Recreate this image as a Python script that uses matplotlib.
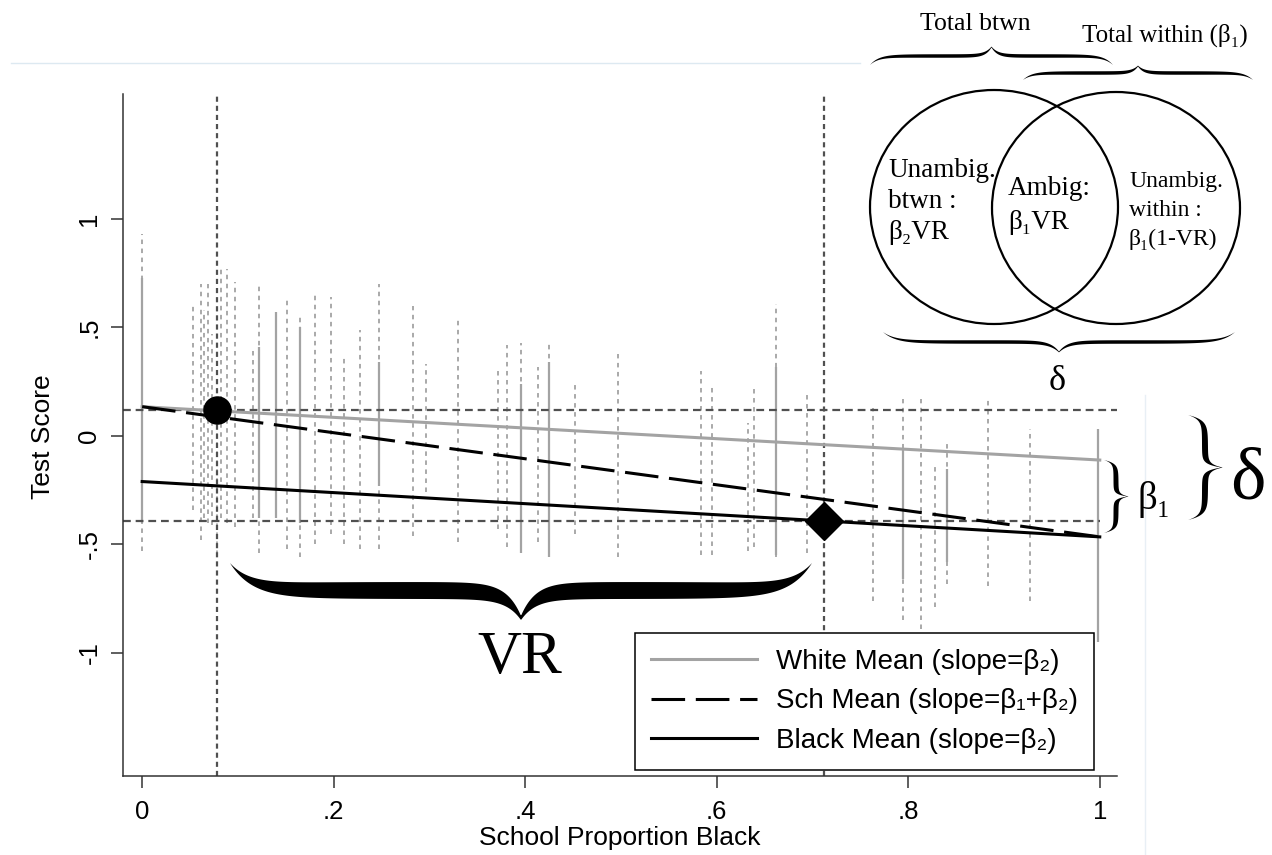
import numpy as np
import matplotlib
matplotlib.use("Agg")
import matplotlib.pyplot as plt
from matplotlib.patches import Ellipse

SANS = ["Liberation Sans", "DejaVu Sans"]
SERIF = ["Liberation Serif", "DejaVu Serif"]

# school columns: proportion black and the spread of student scores
school_x = [0.000, 0.053, 0.061, 0.065, 0.069, 0.073, 0.078, 0.082, 0.089, 0.097,
            0.116, 0.122, 0.140, 0.151, 0.165, 0.180, 0.197, 0.211, 0.228, 0.247,
            0.283, 0.296, 0.330, 0.372, 0.381, 0.396, 0.413, 0.425, 0.452, 0.497,
            0.584, 0.595, 0.633, 0.639, 0.662, 0.694, 0.763, 0.795, 0.813, 0.828,
            0.840, 0.883, 0.927, 0.998]
school_lo = [-0.53, -0.34, -0.48, -0.38, -0.40, -0.41, -0.55, -0.38, -0.40, -0.42,
             -0.38, -0.54, -0.38, -0.52, -0.56, -0.50, -0.45, -0.50, -0.52, -0.52,
             -0.46, -0.26, -0.49, -0.43, -0.51, -0.54, -0.49, -0.56, -0.45, -0.56,
             -0.55, -0.55, -0.53, -0.51, -0.56, -0.54, -0.76, -0.85, -0.89, -0.79,
             -0.68, -0.69, -0.76, -0.95]
school_hi = [0.93, 0.60, 0.70, 0.58, 0.70, 0.47, 0.62, 0.77, 0.77, 0.71,
             0.41, 0.70, 0.57, 0.63, 0.55, 0.66, 0.64, 0.37, 0.49, 0.70,
             0.60, 0.33, 0.55, 0.30, 0.42, 0.43, 0.32, 0.44, 0.25, 0.38,
             0.30, 0.24, 0.06, 0.22, 0.61, 0.19, 0.13, 0.17, 0.17, -0.13,
             -0.03, 0.18, 0.03, 0.03]

# densely filled parts of some columns
core_x = [0.000, 0.122, 0.140, 0.165, 0.247, 0.396, 0.425, 0.662, 0.795, 0.840, 0.998]
core_lo = [-0.40, -0.38, -0.38, -0.40, -0.23, -0.54, -0.56, -0.55, -0.66, -0.58, -0.95]
core_hi = [0.73, 0.41, 0.57, 0.50, 0.34, 0.24, 0.34, 0.32, -0.06, -0.15, 0.03]

# fitted mean lines (endpoints at x = 0 and x = 1)
line_x = [0, 1]
white_y = [0.135, -0.111]
sch_y = [0.135, -0.465]
black_y = [-0.210, -0.465]

# highlighted points
white_pt = (0.078, 0.12)
black_pt = (0.712, -0.39)

xticks = [0, 0.2, 0.4, 0.6, 0.8, 1]
xtick_labels = ["0", ".2", ".4", ".6", ".8", "1"]
yticks = [-1, -0.5, 0, 0.5, 1]
ytick_labels = ["-1", "-.5", "0", ".5", "1"]

legend_labels = ["White Mean (slope=β₂)", "Sch Mean (slope=β₁+β₂)", "Black Mean (slope=β₂)"]

W, H = 1272, 855
GRAY = "#a3a3a3"
REF = "#505050"


def hbrace(ax, x0, x1, y_end, y_tip, thick, n=800):
    """Filled horizontal curly brace, tip in the middle."""
    s = np.linspace(0, 1, n)
    h = 1 - np.abs(2 * s - 1)
    prof = 0.5 * (1 - np.exp(-h / 0.07)) + 0.5 * np.exp(-(1 - h) / 0.05)
    w = thick * (1 - np.exp(-h / 0.12)) * (1 - 0.75 * np.exp(-(1 - h) / 0.05))
    x = x0 + (x1 - x0) * s
    yc = y_end + (y_tip - y_end) * prof
    ax.fill(np.r_[x, x[::-1]], np.r_[yc - w / 2, (yc + w / 2)[::-1]], color="black", lw=0)


def vbrace(ax, y0, y1, x_end, x_tip, thick, n=800):
    s = np.linspace(0, 1, n)
    h = 1 - np.abs(2 * s - 1)
    prof = 0.5 * (1 - np.exp(-h / 0.09)) + 0.5 * np.exp(-(1 - h) / 0.06)
    w = thick * (1 - np.exp(-h / 0.12)) * (1 - 0.75 * np.exp(-(1 - h) / 0.06))
    y = y0 + (y1 - y0) * s
    xc = x_end + (x_tip - x_end) * prof
    ax.fill(np.r_[xc - w / 2, (xc + w / 2)[::-1]], np.r_[y, y[::-1]], color="black", lw=0)


fig = plt.figure(figsize=(W / 100, H / 100), dpi=100)
ax = fig.add_axes([123 / W, 1 - 776 / H, (1117 - 123) / W, (776 - 94) / H])
ax.set_xlim(-0.02, 1.018)
ax.set_ylim(-1.567, 1.576)

# student scores by school
ax.vlines(school_x, school_lo, school_hi, colors=GRAY, lw=1.3,
          linestyles=[(0, (2.5, 2.5))], zorder=1)
ax.vlines(core_x, core_lo, core_hi, colors=GRAY, lw=1.6, zorder=1)

# reference lines through the two highlighted points
ax.axhline(white_pt[1], color=REF, lw=1.6, ls=(0, (3.5, 2.2)), zorder=2)
ax.hlines(black_pt[1], -0.02, 1.0, color=REF, lw=1.6, linestyles=[(0, (3.5, 2.2))], zorder=2)
ax.axvline(white_pt[0], color=REF, lw=1.6, ls=(0, (2.3, 1.8)), zorder=2)
ax.axvline(black_pt[0], color=REF, lw=1.6, ls=(0, (2.3, 1.8)), zorder=2)

h_white, = ax.plot(line_x, white_y, color=GRAY, lw=2.2, zorder=3)
h_sch, = ax.plot(line_x, sch_y, color="black", lw=2.2, ls=(0, (11, 3.5)), zorder=3)
h_black, = ax.plot(line_x, black_y, color="black", lw=2.2, zorder=3)

ax.plot(*white_pt, "o", ms=19.5, color="black", zorder=5)
ax.plot(*black_pt, "D", ms=19, color="black", zorder=5)

for side in ["top", "right"]:
    ax.spines[side].set_visible(False)
for side in ["left", "bottom"]:
    ax.spines[side].set_color("#333333")
    ax.spines[side].set_linewidth(1.1)

ax.set_xticks(xticks)
ax.set_xticklabels(xtick_labels, family=SANS, fontsize=18.5)
ax.set_yticks(yticks)
ax.set_yticklabels(ytick_labels, family=SANS, fontsize=18.5, rotation=90, va="center")
ax.tick_params(direction="out", length=8.5, width=1.1, color="#333333", pad=7)
ax.tick_params(axis="x", pad=9)

ax.set_xlabel("School Proportion Black", family=SANS, fontsize=19)
ax.xaxis.set_label_coords(0.5, -0.074)
ax.set_ylabel("Test Score", family=SANS, fontsize=19)
ax.yaxis.set_label_coords(-0.068, 0.497)

leg = ax.legend([h_white, h_sch, h_black], legend_labels, loc="upper left",
                bbox_to_anchor=(635 / W, 1 - 633 / H), bbox_transform=fig.transFigure,
                borderaxespad=0, fancybox=False, framealpha=1, edgecolor="black",
                prop={"family": SANS, "size": 20}, handlelength=3.8,
                handletextpad=0.7, labelspacing=0.48, borderpad=0.58)
leg.get_frame().set_linewidth(1.1)
leg.set_zorder(10)

# overlay in pixel coordinates for the annotations and the Venn diagram
ov = fig.add_axes([0, 0, 1, 1], zorder=5)
ov.set_xlim(0, W)
ov.set_ylim(H, 0)
ov.axis("off")
ov.patch.set_alpha(0)

ov.plot([11, 860], [63, 63], color="#dde9f1", lw=1)
ov.plot([1145, 1145], [395, H], color="#e8eff5", lw=1)

hbrace(ov, 230, 812, 563, 618, 17)
ov.text(520, 673, "VR", family=SERIF, fontsize=44, ha="center", va="baseline")

vbrace(ov, 460, 533, 1104, 1128, 5)
ov.text(1137, 509, "β₁", family=SERIF, fontsize=28, va="baseline")
vbrace(ov, 415, 520, 1188, 1222, 6)
ov.text(1230, 498, "δ", family=SERIF, fontsize=54, va="baseline")

# Venn diagram
ov.add_patch(Ellipse((994, 207), 248, 234, fill=False, lw=1.6, ec="black"))
ov.add_patch(Ellipse((1116, 208), 248, 232, fill=False, lw=1.6, ec="black"))

hbrace(ov, 870, 1113, 65, 47, 3.5)
hbrace(ov, 1023, 1253, 80, 66, 3.5)
hbrace(ov, 883, 1235, 332, 352, 3.5)

ov.text(920, 30, "Total btwn", family=SERIF, fontsize=18.5, va="baseline")
ov.text(1082, 42, "Total within (β₁)", family=SERIF, fontsize=18, va="baseline")
ov.text(1057, 390, "δ", family=SERIF, fontsize=26, ha="center", va="baseline")

for i, s in enumerate(["Unambig.", "btwn :", "β₂VR"]):
    ov.text(888, 177 + 31 * i, s, family=SERIF, fontsize=19.5, va="baseline")
for i, s in enumerate(["Ambig:", "β₁VR"]):
    ov.text(1008, 195 + 34 * i, s, family=SERIF, fontsize=19.5, va="baseline")
for i, s in enumerate(["Unambig.", "within :", "β₁(1-VR)"]):
    ov.text(1129, 187 + 29 * i, s, family=SERIF, fontsize=17, va="baseline")

fig.savefig("out.png", dpi=100)
